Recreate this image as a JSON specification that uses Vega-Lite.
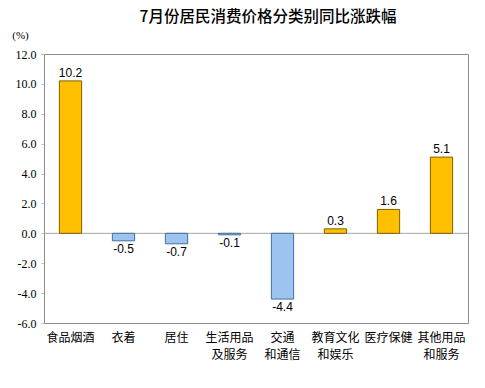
{
  "$schema": "https://vega.github.io/schema/vega-lite/v6.json",
  "autosize": {"type": "none"},
  "width": 424,
  "height": 269,
  "padding": {"left": 44, "top": 54, "right": 17, "bottom": 65},
  "background": "white",
  "config": {"view": {"stroke": "#8c8c8c", "strokeWidth": 1}},
  "title": {
    "text": "7月份居民消费价格分类别同比涨跌幅",
    "font": "Noto Sans CJK SC",
    "fontSize": 15.5,
    "fontWeight": 500,
    "color": "#000000",
    "anchor": "middle",
    "dx": 12,
    "offset": 4
  },
  "data": {
    "values": [
      {"category": "食品烟酒", "value": 10.2},
      {"category": "衣着", "value": -0.5},
      {"category": "居住", "value": -0.7},
      {"category": "生活用品|及服务", "value": -0.1},
      {"category": "交通|和通信", "value": -4.4},
      {"category": "教育文化|和娱乐", "value": 0.3},
      {"category": "医疗保健", "value": 1.6},
      {"category": "其他用品|和服务", "value": 5.1}
    ]
  },
  "transform": [
    {"calculate": "replace(format(datum.value, '.1f'), '\u2212', '-')", "as": "label"}
  ],
  "encoding": {
    "x": {
      "field": "category",
      "type": "nominal",
      "sort": null,
      "scale": {"paddingInner": 0.58, "paddingOuter": 0.29},
      "axis": {
        "title": null,
        "labelAngle": 0,
        "labelExpr": "split(datum.label, '|')",
        "labelFont": "Noto Sans CJK SC",
        "labelFontSize": 12,
        "labelColor": "#000000",
        "labelPadding": 9,
        "labelLineHeight": 17,
        "domain": false,
        "ticks": false
      }
    },
    "y": {
      "field": "value",
      "type": "quantitative",
      "scale": {"domain": [-6, 12], "nice": false},
      "axis": {
        "values": [-6, -4, -2, 0, 2, 4, 6, 8, 10, 12],
        "format": ".1f",
        "labelExpr": "replace(datum.label, '\u2212', '-')",
        "grid": false,
        "domain": false,
        "tickColor": "#bbbbbb",
        "tickSize": 3,
        "labelFont": "Liberation Serif",
        "labelFontSize": 12,
        "labelColor": "#000000",
        "labelPadding": 5,
        "title": "(%)",
        "titleAngle": 0,
        "titleFont": "Liberation Serif",
        "titleFontSize": 11,
        "titleFontWeight": "normal",
        "titleColor": "#000000",
        "titleX": -24,
        "titleY": -14
      }
    }
  },
  "layer": [
    {
      "mark": {"type": "rule", "color": "#a6a6a6", "strokeWidth": 1},
      "data": {"values": [{"zero": 0}]},
      "encoding": {"y": {"field": "zero", "type": "quantitative"}, "x": {"value": 0}, "x2": {"value": 424}}
    },
    {
      "mark": {"type": "bar", "strokeWidth": 1},
      "encoding": {
        "color": {
          "condition": {"test": "datum.value >= 0", "value": "#FFC000"},
          "value": "#9DC3F0"
        },
        "stroke": {
          "condition": {"test": "datum.value >= 0", "value": "#7F6000"},
          "value": "#41719C"
        }
      }
    },
    {
      "transform": [{"filter": "datum.value >= 0"}],
      "mark": {"type": "text", "font": "Liberation Sans", "fontSize": 12, "color": "#000000", "baseline": "bottom", "dy": -1},
      "encoding": {
        "text": {"field": "label", "type": "nominal"}
      }
    },
    {
      "transform": [{"filter": "datum.value < 0"}],
      "mark": {"type": "text", "font": "Liberation Sans", "fontSize": 12, "color": "#000000", "baseline": "top", "dy": 3},
      "encoding": {
        "text": {"field": "label", "type": "nominal"}
      }
    }
  ]
}
